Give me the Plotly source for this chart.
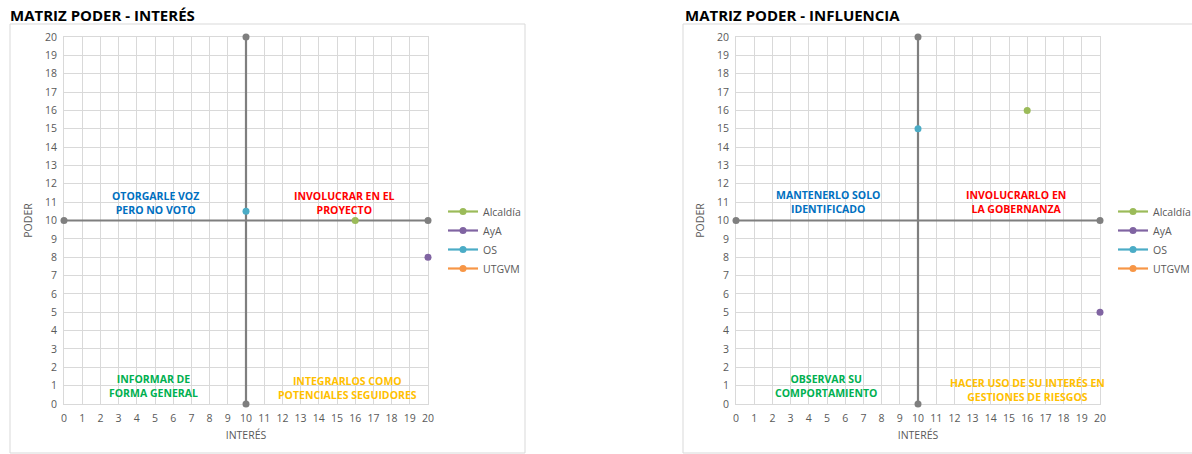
import plotly.graph_objects as go

# Stakeholder positions (interest, power) for each matrix
series_names = ["Alcaldía", "AyA", "OS", "UTGVM"]
series_colors = ["#9BBB59", "#8064A2", "#4BACC6", "#F79646"]

interes_x = [16, 20, 10, None]
interes_y = [10, 8, 10.5, None]

influencia_x = [16, 20, 10, None]
influencia_y = [16, 5, 15, None]

# Quadrant dividers
h_div_x = [0, 20]
h_div_y = [10, 10]
v_div_x = [10, 10]
v_div_y = [0, 20]

ticks = list(range(0, 21))

# Quadrant labels: (x, y, text, colour)
labels_interes = [
    (5, 10.95, "OTORGARLE VOZ<br>PERO NO VOTO", "#0070C0"),
    (15.4, 10.95, "INVOLUCRAR EN EL<br>PROYECTO", "#FF0000"),
    (4.9, 0.98, "INFORMAR DE<br>FORMA GENERAL", "#00B050"),
    (15.6, 0.87, "INTEGRARLOS COMO<br>POTENCIALES SEGUIDORES", "#FFC000"),
]
labels_influencia = [
    (5.05, 11.0, "MANTENERLO SOLO<br>IDENTIFICADO", "#0070C0"),
    (15.4, 11.0, "INVOLUCRARLO EN<br>LA GOBERNANZA", "#FF0000"),
    (4.95, 0.98, "OBSERVAR SU<br>COMPORTAMIENTO", "#00B050"),
    (16.0, 0.76, "HACER USO DE SU INTERÉS EN<br>GESTIONES DE RIESGOS", "#FFC000"),
]

W, H = 1192, 454
FONT = "Open Sans"
GRAY = "#7F7F7F"

fig = go.Figure()


def add_matrix(xs, ys, xa, ya, legend_id):
    for dx, dy in ((h_div_x, h_div_y), (v_div_x, v_div_y)):
        fig.add_trace(go.Scatter(
            x=dx, y=dy, mode="lines+markers", xaxis=xa, yaxis=ya,
            line=dict(color=GRAY, width=2.2),
            marker=dict(color=GRAY, size=7),
            showlegend=False, cliponaxis=False, hoverinfo="skip"))
    for name, color, x, y in zip(series_names, series_colors, xs, ys):
        fig.add_trace(go.Scatter(
            x=[x], y=[y], name=name, mode="lines+markers",
            xaxis=xa, yaxis=ya, legend=legend_id,
            line=dict(color=color, width=2.2),
            marker=dict(color=color, size=7),
            cliponaxis=False))


add_matrix(interes_x, interes_y, "x", "y", "legend")
add_matrix(influencia_x, influencia_y, "x2", "y2", "legend2")

py = lambda p: (H - p) / H
px = lambda p: p / W

axis_common = dict(
    range=[0, 20], tickmode="array", tickvals=ticks, ticktext=[str(t) for t in ticks],
    showgrid=True, gridcolor="#D9D9D9", gridwidth=1, zeroline=False,
    showline=True, linecolor="#D9D9D9", linewidth=1, mirror=True,
    ticks="", tickfont=dict(family=FONT, size=10.5, color="#595959"),
    fixedrange=True, automargin=False, layer="below traces",
)
title_font = dict(family=FONT, size=10.5, color="#595959")
legend_font = dict(family=FONT, size=10.5, color="#595959")

fig.update_layout(
    width=W, height=H, margin=dict(l=0, r=0, t=0, b=0, autoexpand=False),
    paper_bgcolor="white", plot_bgcolor="white",
    xaxis=dict(axis_common, domain=[px(64), px(428)], anchor="y", ticklabelstandoff=4,
               title=dict(text="INTERÉS", font=title_font, standoff=8)),
    yaxis=dict(axis_common, domain=[py(404), py(37)], anchor="x", ticklabelstandoff=4,
               title=dict(text="PODER", font=title_font, standoff=10)),
    xaxis2=dict(axis_common, domain=[px(736), px(1100)], anchor="y2", ticklabelstandoff=4,
                title=dict(text="INTERÉS", font=title_font, standoff=8)),
    yaxis2=dict(axis_common, domain=[py(404), py(37)], anchor="x2", ticklabelstandoff=4,
                title=dict(text="PODER", font=title_font, standoff=10)),
    legend=dict(x=px(443), y=py(197), xanchor="left", yanchor="top",
                font=legend_font, bgcolor="rgba(0,0,0,0)",
                itemwidth=30, tracegroupgap=0),
    legend2=dict(x=px(1113), y=py(197), xanchor="left", yanchor="top",
                 font=legend_font, bgcolor="rgba(0,0,0,0)",
                 itemwidth=30, tracegroupgap=0),
    showlegend=True,
)

# Chart frames
for x0, x1 in ((10, 525), (683, 1198)):
    fig.add_shape(type="rect", xref="paper", yref="paper",
                  x0=px(x0), x1=px(x1), y0=py(453), y1=py(24),
                  line=dict(color="#D9D9D9", width=1), layer="below")

# Titles
for x0, text in ((8, "MATRIZ PODER - INTERÉS"), (683, "MATRIZ PODER - INFLUENCIA")):
    fig.add_annotation(xref="paper", yref="paper", x=px(x0), y=py(15),
                       xanchor="left", yanchor="middle", showarrow=False,
                       text=f"<b>{text}</b>",
                       font=dict(family=FONT, size=15, color="black"))

# Quadrant labels
for labels, xa, ya in ((labels_interes, "x", "y"), (labels_influencia, "x2", "y2")):
    for x, y, text, color in labels:
        fig.add_annotation(xref=xa, yref=ya, x=x, y=y, text=f"<b>{text}</b>",
                           showarrow=False, align="center",
                           font=dict(family=FONT, size=10.5, color=color))

fig.write_html("out.html")
